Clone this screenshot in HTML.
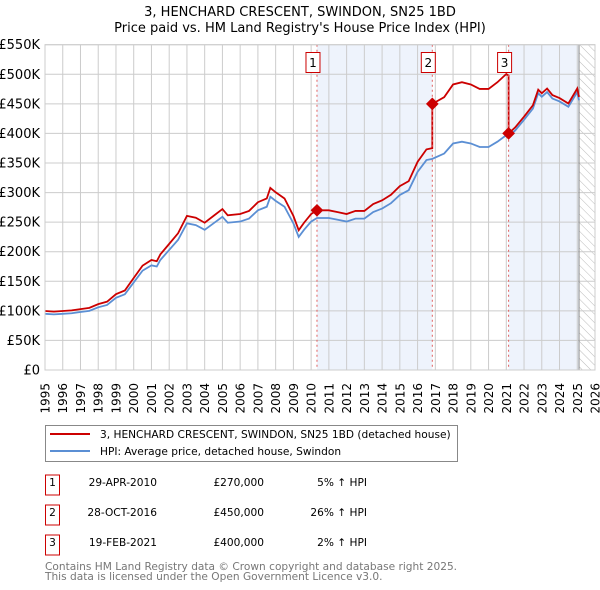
<!DOCTYPE html>
<html><head><meta charset="utf-8"><style>
body{margin:0;background:#fff;width:600px;height:590px;overflow:hidden;font-family:"DejaVu Sans","Liberation Sans",sans-serif}
svg{position:absolute;left:0;top:0}
</style></head><body>
<svg id="c" width="600" height="590" font-family="DejaVu Sans, Liberation Sans, sans-serif">
<defs><pattern id="hatch" width="6" height="6" patternUnits="userSpaceOnUse" patternTransform="rotate(-45)"><line x1="0" y1="0" x2="0" y2="6" stroke="#bbb" stroke-width="1"/></pattern></defs>
<text x="300" y="16" text-anchor="middle" font-size="13">3, HENCHARD CRESCENT, SWINDON, SN25 1BD</text>
<text x="300" y="32" text-anchor="middle" font-size="13">Price paid vs. HM Land Registry's House Price Index (HPI)</text>
<g id="plot"></g>
<g>
<rect x="45.5" y="425.5" width="412" height="36" fill="#fff" stroke="#888"/>
<line x1="50" y1="434" x2="90" y2="434" stroke="#cc0000" stroke-width="2"/>
<text x="100" y="438" font-size="10.6">3, HENCHARD CRESCENT, SWINDON, SN25 1BD (detached house)</text>
<line x1="50" y1="451" x2="90" y2="451" stroke="#5b8fd4" stroke-width="2"/>
<text x="100" y="455" font-size="10.6">HPI: Average price, detached house, Swindon</text>
</g>
<g id="table" font-size="10.6"></g>
<text x="45" y="570" font-size="10.6" fill="#777">Contains HM Land Registry data © Crown copyright and database right 2025.</text>
<text x="45" y="580" font-size="10.6" fill="#777">This data is licensed under the Open Government Licence v3.0.</text>
</svg>
<script>
const hpiYears=[1995,1995.5,1996,1996.5,1997,1997.5,1998,1998.5,1999,1999.5,2000,2000.5,2001,2001.3,2001.5,2002,2002.5,2003,2003.5,2004,2004.5,2005,2005.3,2006,2006.5,2007,2007.5,2007.7,2008,2008.5,2009,2009.3,2009.6,2010,2010.33,2011,2011.5,2012,2012.5,2013,2013.5,2014,2014.5,2015,2015.5,2016,2016.5,2016.83,2017.5,2018,2018.5,2019,2019.5,2020,2020.5,2021,2021.13,2021.5,2022,2022.5,2022.8,2023,2023.3,2023.6,2024,2024.5,2025,2025.1];
const hpiValues=[95,94,95,96,98,100,106,110,122,128,148,168,177,175,186,203,220,248,245,237,248,259,249,251,256,270,276,293,286,276,248,225,237,251,257,257,254,251,256,256,267,273,282,296,304,335,355,357,366,383,386,383,377,377,386,397,395,405,423,442,468,462,470,459,454,445,470,456];
const saleYears=[2010.33,2016.83,2021.13];
const salePrices=[270,450,400];
const saleDates=["29-APR-2010","28-OCT-2016","19-FEB-2021"];
const salePriceLabels=["£270,000","£450,000","£400,000"];
const saleHpiLabels=["5% ↑ HPI","26% ↑ HPI","2% ↑ HPI"];
const yTicks=[0,50,100,150,200,250,300,350,400,450,500,550];
const yTickLabels=["£0","£50K","£100K","£150K","£200K","£250K","£300K","£350K","£400K","£450K","£500K","£550K"];
const xTicks=[1995,1996,1997,1998,1999,2000,2001,2002,2003,2004,2005,2006,2007,2008,2009,2010,2011,2012,2013,2014,2015,2016,2017,2018,2019,2020,2021,2022,2023,2024,2025,2026];

const X0=45,X1=595,Y0=370,Y1=44.7;
const xs=y=>X0+(y-1995)/(2026-1995)*(X1-X0);
const ys=v=>Y0-v/550*(Y0-Y1);
const NS="http://www.w3.org/2000/svg";
const plot=document.getElementById('plot');
function mk(tag,attrs,parent){const e=document.createElementNS(NS,tag);for(const k in attrs)e.setAttribute(k,attrs[k]);(parent||plot).appendChild(e);return e;}
let e;
e=mk('rect',{x:xs(saleYears[0]),y:Y1,width:xs(saleYears[1])-xs(saleYears[0]),height:Y0-Y1,fill:'#eef3fc'});


e=mk('rect',{x:xs(saleYears[2]),y:Y1,width:xs(2025.1)-xs(saleYears[2]),height:Y0-Y1,fill:'#eef3fc'});


e=mk('rect',{x:xs(2025.1),y:Y1,width:X1-xs(2025.1),height:Y0-Y1,fill:'url(#hatch)'});


yTicks.forEach((v,i)=>{
 e=mk('line',{x1:X0,x2:X1,y1:ys(v),y2:ys(v),stroke:'#ccc'});
 
 
 e=mk('text',{x:40,y:ys(v)+4.5,'text-anchor':'end','font-size':13});
 e.textContent=yTickLabels[i];
 
 
});
xTicks.forEach(t=>{
 e=mk('line',{x1:xs(t),x2:xs(t),y1:Y1,y2:Y0,stroke:'#ccc'});
 
 
 e=mk('text',{x:0,y:0,'text-anchor':'end','font-size':12,transform:`translate(${xs(t)+4.5},383) rotate(-90)`});
 e.textContent=t;
 
 
});
e=mk('line',{x1:xs(2025.1),x2:xs(2025.1),y1:Y1,y2:Y0,stroke:'#888'});


function hpiAt(t){for(let i=1;i<hpiYears.length;i++){if(t<=hpiYears[i]){const f=(t-hpiYears[i-1])/(hpiYears[i]-hpiYears[i-1]);return hpiValues[i-1]+f*(hpiValues[i]-hpiValues[i-1]);}}return hpiValues[hpiValues.length-1];}
const redPts=[];
hpiYears.forEach((t,i)=>{
 let k=0;for(let j=0;j<saleYears.length;j++)if(t>=saleYears[j])k=j;
 const r=salePrices[k]/hpiAt(saleYears[k]);
 redPts.push([t,hpiValues[i]*r]);
});
saleYears.forEach((s,j)=>{
 if(j>0){const rp=salePrices[j-1]/hpiAt(saleYears[j-1]);redPts.push([s-0.001,hpiAt(s)*rp]);}
 redPts.push([s,salePrices[j]]);
});
redPts.sort((a,b)=>a[0]-b[0]);
e=mk('polyline',{points:hpiYears.map((t,i)=>xs(t)+','+ys(hpiValues[i])).join(' '),fill:'none',stroke:'#5b8fd4','stroke-width':1.8});


e=mk('polyline',{points:redPts.map(p=>xs(p[0])+','+ys(p[1])).join(' '),fill:'none',stroke:'#cc0000','stroke-width':1.8});


saleYears.forEach((s,j)=>{
 const x=xs(s),y=ys(salePrices[j]);
 e=mk('line',{x1:x,x2:x,y1:Y1,y2:Y0,stroke:'#e06060','stroke-dasharray':'2,3'});
 
 
 e=mk('rect',{x:x-4.5,y:y-4.5,width:9,height:9,fill:'#cc0000',transform:`rotate(45 ${x} ${y})`});
 
 
 e=mk('rect',{x:x-11,y:52.5,width:14,height:20,fill:'#fff',stroke:'#cc0000'});
 
 
 e=mk('text',{x:x-4,y:67,'text-anchor':'middle','font-size':12});
 e.textContent=j+1;
 
 
});
e=mk('rect',{x:X0,y:Y1,width:X1-X0,height:Y0-Y1,fill:'none',stroke:'#ccc'});


const tb=document.getElementById('table');
saleYears.forEach((s,j)=>{
 const cy=485+j*30;
 e=mk('rect',{x:45.5,y:cy-10,width:14,height:20,fill:'#fff',stroke:'#cc0000'},tb);
 
 
 e=mk('text',{x:52.5,y:cy+1,'text-anchor':'middle'},tb);e.textContent=j+1;
 
 
 e=mk('text',{x:157,y:cy+1,'text-anchor':'end'},tb);e.textContent=saleDates[j];
 
 
 e=mk('text',{x:264,y:cy+1,'text-anchor':'end'},tb);e.textContent=salePriceLabels[j];
 
 
 e=mk('text',{x:367,y:cy+1,'text-anchor':'end'},tb);e.textContent=saleHpiLabels[j];
 
 
});
</script>
</body></html>
